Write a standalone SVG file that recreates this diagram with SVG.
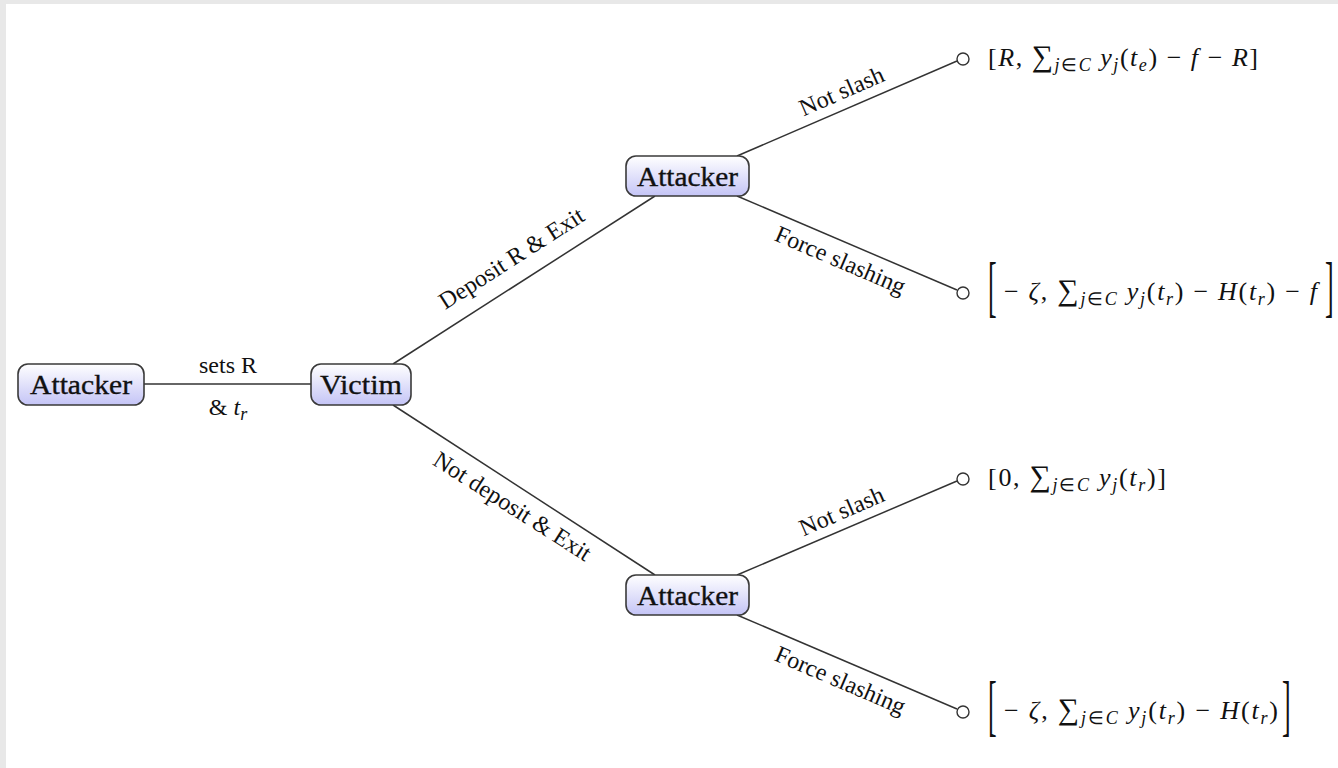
<svg xmlns="http://www.w3.org/2000/svg" width="1338" height="768" viewBox="0 0 1338 768">
<defs>
<linearGradient id="nodeGrad" x1="0" y1="0" x2="0" y2="1">
<stop offset="0" stop-color="#ffffff"/>
<stop offset="1" stop-color="#c4c4f6"/>
</linearGradient>
<style>
.node rect{fill:url(#nodeGrad);stroke:#3a3a3a;stroke-width:1.6}
.node text{font-family:"Liberation Serif","Times New Roman",serif;font-size:28px;fill:#111;stroke:#111;stroke-width:0.35;text-anchor:middle}
.edge{stroke:#333;stroke-width:1.5;fill:none}
.lbl{font-family:"Liberation Serif","Times New Roman",serif;font-size:24px;fill:#111;text-anchor:middle}
.leaf{fill:#fff;stroke:#333;stroke-width:1.4}
.pay{font-family:"Liberation Serif","Times New Roman",serif;font-size:26px;fill:#111}
.i{font-style:italic}
.s{font-size:18px}
.sum{font-size:30px}
.br{font-family:"Liberation Serif","Times New Roman",serif;font-size:26px;fill:#111}
</style>
</defs>
<rect x="0" y="0" width="1338" height="768" fill="#e8e8e8"/>
<rect x="6" y="4" width="1332" height="764" fill="#ffffff"/>

<g id="connectors">
<line class="edge" x1="144" y1="384" x2="311" y2="384" stroke="#555" stroke-width="2.4"/>
<line class="edge" x1="393" y1="364" x2="655" y2="196"/>
<line class="edge" x1="393" y1="405" x2="655" y2="575"/>
<line class="edge" x1="737" y1="156" x2="957" y2="61"/>
<line class="edge" x1="737" y1="196" x2="957" y2="290"/>
<line class="edge" x1="737" y1="575" x2="957" y2="481"/>
<line class="edge" x1="737" y1="615" x2="957" y2="709"/>
<text class="lbl" x="228" y="373">sets R</text>
<text class="lbl" x="228" y="415">&amp; <tspan class="i">t</tspan><tspan class="i s" dy="5">r</tspan></text>
<text class="lbl" transform="translate(512,259) rotate(-32.7)" y="7">Deposit R &amp; Exit</text>
<text class="lbl" transform="translate(512,507) rotate(32.5)" y="7">Not deposit &amp; Exit</text>
<text class="lbl" transform="translate(842,92) rotate(-23.6)" y="7">Not slash</text>
<text class="lbl" transform="translate(840,261) rotate(23.2)" y="7">Force slashing</text>
<text class="lbl" transform="translate(842,512) rotate(-23.6)" y="7">Not slash</text>
<text class="lbl" transform="translate(840,681) rotate(23.2)" y="7">Force slashing</text>
</g>

<g id="node-root" class="node">
<rect x="18" y="364" width="126" height="41" rx="10"/>
<text x="81" y="394" textLength="102" lengthAdjust="spacingAndGlyphs">Attacker</text>
</g>
<g id="node-victim" class="node">
<rect x="311" y="364" width="100" height="41" rx="10"/>
<text x="361" y="394" textLength="82" lengthAdjust="spacingAndGlyphs">Victim</text>
</g>
<g id="node-attacker-top" class="node">
<rect x="626" y="156" width="123" height="40" rx="10"/>
<text x="687.5" y="186" textLength="101" lengthAdjust="spacingAndGlyphs">Attacker</text>
</g>
<g id="node-attacker-bottom" class="node">
<rect x="626" y="575" width="123" height="40" rx="10"/>
<text x="687.5" y="605" textLength="101" lengthAdjust="spacingAndGlyphs">Attacker</text>
</g>

<g id="leaf-1">
<circle class="leaf" cx="963" cy="59" r="6"/>
<text class="pay" x="988" y="66" textLength="270" lengthAdjust="spacing">[<tspan class="i">R</tspan>, <tspan class="sum">∑</tspan><tspan class="i s" dy="5">j</tspan><tspan class="s">∈</tspan><tspan class="i s">C</tspan><tspan class="i" dy="-5"> y</tspan><tspan class="i s" dy="5">j</tspan><tspan dy="-5">(</tspan><tspan class="i">t</tspan><tspan class="i s" dy="5">e</tspan><tspan dy="-5">) − </tspan><tspan class="i">f</tspan> − <tspan class="i">R</tspan>]</text>
</g>
<g id="leaf-2">
<circle class="leaf" cx="963" cy="293" r="6"/>
<text class="br" transform="translate(988,309) scale(1,2.58)">[</text>
<text class="pay" x="1004" y="300" textLength="313" lengthAdjust="spacing">− <tspan class="i">ζ</tspan>, <tspan class="sum">∑</tspan><tspan class="i s" dy="5">j</tspan><tspan class="s">∈</tspan><tspan class="i s">C</tspan><tspan class="i" dy="-5"> y</tspan><tspan class="i s" dy="5">j</tspan><tspan dy="-5">(</tspan><tspan class="i">t</tspan><tspan class="i s" dy="5">r</tspan><tspan dy="-5">) − </tspan><tspan class="i">H</tspan>(<tspan class="i">t</tspan><tspan class="i s" dy="5">r</tspan><tspan dy="-5">) − </tspan><tspan class="i">f</tspan></text>
<text class="br" transform="translate(1325,309) scale(1,2.58)">]</text>
</g>
<g id="leaf-3">
<circle class="leaf" cx="963" cy="479" r="6"/>
<text class="pay" x="988" y="486" textLength="178" lengthAdjust="spacing">[0, <tspan class="sum">∑</tspan><tspan class="i s" dy="5">j</tspan><tspan class="s">∈</tspan><tspan class="i s">C</tspan><tspan class="i" dy="-5"> y</tspan><tspan class="i s" dy="5">j</tspan><tspan dy="-5">(</tspan><tspan class="i">t</tspan><tspan class="i s" dy="5">r</tspan><tspan dy="-5">)]</tspan></text>
</g>
<g id="leaf-4">
<circle class="leaf" cx="963" cy="712" r="6"/>
<text class="br" transform="translate(988,728) scale(1,2.58)">[</text>
<text class="pay" x="1004" y="719" textLength="274" lengthAdjust="spacing">− <tspan class="i">ζ</tspan>, <tspan class="sum">∑</tspan><tspan class="i s" dy="5">j</tspan><tspan class="s">∈</tspan><tspan class="i s">C</tspan><tspan class="i" dy="-5"> y</tspan><tspan class="i s" dy="5">j</tspan><tspan dy="-5">(</tspan><tspan class="i">t</tspan><tspan class="i s" dy="5">r</tspan><tspan dy="-5">) − </tspan><tspan class="i">H</tspan>(<tspan class="i">t</tspan><tspan class="i s" dy="5">r</tspan><tspan dy="-5">)</tspan></text>
<text class="br" transform="translate(1282,728) scale(1,2.58)">]</text>
</g>
</svg>
